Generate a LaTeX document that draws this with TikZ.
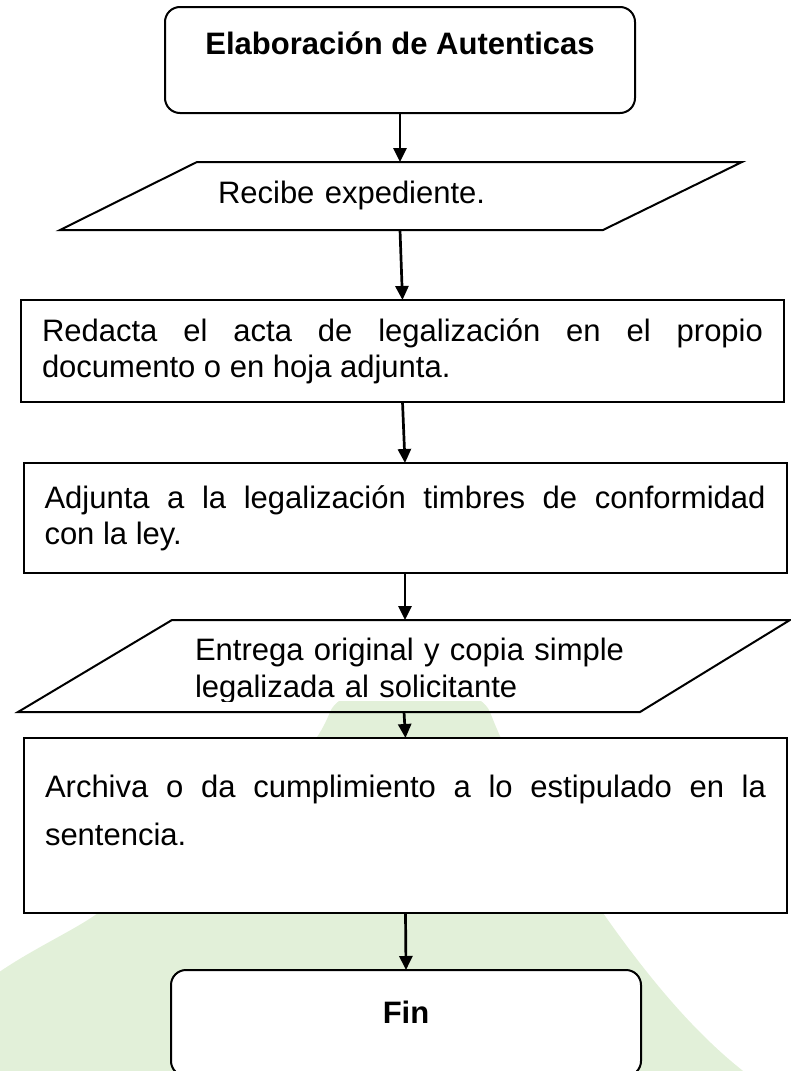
\documentclass[tikz,border=0pt]{standalone}
\usepackage{fontspec}
\setmainfont{Liberation Sans}
\usetikzlibrary{arrows.meta,positioning}
\definecolor{BgGreen}{HTML}{E2F0D9}
\hyphenpenalty=10000
\exhyphenpenalty=10000
\tolerance=9999
\newcommand{\flowfont}{\fontsize{31pt}{36pt}\selectfont\spaceskip=.278em plus .6em\relax}
\newcommand{\widefont}{\fontsize{31pt}{48pt}\selectfont\spaceskip=.278em plus .6em\relax}
\tikzset{
  startbox/.style={rounded corners=15pt, draw=black, fill=white, line width=2pt, outer sep=0pt, minimum width=470pt, minimum height=106pt, inner sep=0pt, font=\flowfont\bfseries},
  procbox/.style={draw=black, fill=white, line width=2pt, outer sep=0pt, inner xsep=21pt, inner ysep=0pt, text width=721pt, align=justify, font=\flowfont},
  iobox/.style={outer sep=0pt, inner sep=0pt},
  ioline/.style={draw=black, line width=2pt},
  arr/.style={-{Triangle[length=14pt,width=13pt]}, line width=2.7pt, draw=black}
}
\begin{document}
\begin{tikzpicture}[x=1pt, y=-1pt]
\useasboundingbox (0,0) rectangle (790,1071);
% fondo verde
\fill[BgGreen] (-5,975) .. controls (30,950) and (75,930) .. (98,913)
  .. controls (180,850) and (300,790) .. (330,712)
  .. controls (345,675) and (475,675) .. (490,712)
  .. controls (520,790) and (575,870) .. (603,913)
  .. controls (650,980) and (700,1040) .. (755,1080) -- (-5,1080) -- cycle;

\node[startbox, text height=22pt, text depth=34pt] (start) at (400,60) {Elaboración de Autenticas};
\node[iobox, minimum width=682pt, minimum height=68pt, text width=366pt, align=left, font=\flowfont, text height=24pt, text depth=10pt, below=49pt of start, xshift=1pt] (recibe) {Recibe expediente.};
\draw[ioline] ([xshift=137pt]recibe.north west) -- (recibe.north east) -- ([xshift=-139pt]recibe.south east) -- (recibe.south west) -- cycle;
\node[procbox, minimum height=102pt, below=70pt of recibe, xshift=1.5pt] (redacta) {Redacta el acta de legalización en el propio documento o en hoja adjunta.};
\node[procbox, minimum height=110pt, below=61pt of redacta, xshift=2.5pt] (adjunta) {Adjunta a la legalización timbres de conformidad con la ley.};
\node[iobox, minimum width=772pt, minimum height=92pt, below=47pt of adjunta, xshift=-1pt] (entrega) {};
\draw[ioline] ([xshift=154pt]entrega.north west) -- (entrega.north east) -- ([xshift=-150pt]entrega.south east) -- (entrega.south west) -- cycle;
% cuadro de texto recortado
\begin{scope}
\clip (185,622) rectangle (648,701);
\fill[white] (185,622) rectangle (648,701);
\node[text width=440pt, align=left, inner sep=0pt, font=\fontsize{31pt}{37pt}\selectfont, text height=23pt, text depth=35pt, xshift=11pt] (entregatxt) at (entrega.center) {Entrega original y copia simple legalizada al solicitante};
\end{scope}
\node[procbox, minimum height=175pt, font=\widefont, text height=23pt, text depth=80pt, below=26pt of entrega, xshift=1.5pt] (archiva) {Archiva o da cumplimiento a lo estipulado en la sentencia.};
\node[startbox, text height=22pt, text depth=22pt, below=57pt of archiva, xshift=0.5pt] (fin) {Fin};

\draw[arr] (start.south) -- (start.south |- recibe.north);
\draw[arr] ([xshift=-1pt]recibe.south) -- (redacta.north);
\draw[arr] (redacta.south) -- (adjunta.north);
\draw[arr] (adjunta.south) -- (adjunta.south |- entrega.north);
\draw[arr] (entrega.south) -- (archiva.north);
\draw[arr] (archiva.south) -- (fin.north);
\end{tikzpicture}
\end{document}
